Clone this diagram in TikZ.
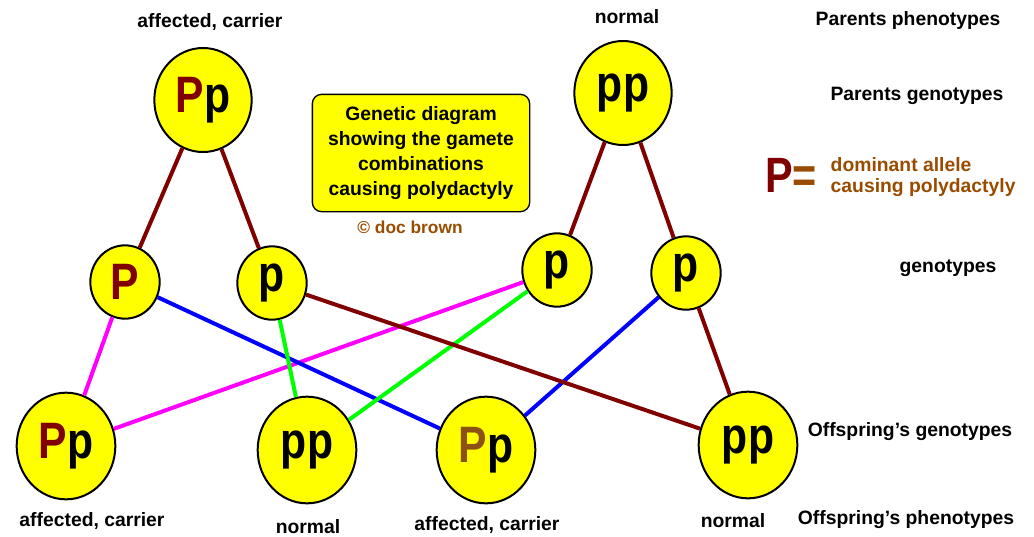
\documentclass[tikz,border=0pt]{standalone}
\usepackage{fontspec}
\setmainfont{Liberation Sans}
\usepackage{graphicx}
\usetikzlibrary{shapes.geometric}

\definecolor{darkred}{RGB}{128,0,0}
\definecolor{brownish}{RGB}{153,76,0}
\definecolor{ptan}{RGB}{140,82,20}
\definecolor{ballyellow}{RGB}{255,255,0}
\definecolor{pinkline}{RGB}{255,0,255}
\definecolor{greenline}{RGB}{0,255,0}
\definecolor{blueline}{RGB}{0,0,255}

% tall letters inside the balls
\newcommand{\allele}[1]{\scalebox{1}[1.2]{\fontsize{32}{34}\selectfont\bfseries #1}}

\begin{document}
\begin{tikzpicture}[x=0.75pt,y=-0.75pt,
    ball/.style={ellipse,draw=black,line width=1.5pt,fill=ballyellow,inner sep=0pt},
    parent/.style={ball,minimum width=73pt,minimum height=78pt},
    gamete/.style={ball,minimum width=52pt,minimum height=55pt},
    child/.style={ball,minimum width=74pt,minimum height=80pt},
    txt/.style={font=\fontsize{14.5}{17}\selectfont\bfseries},
    link/.style={line width=3pt}]
  \useasboundingbox (0,0) rectangle (1034,536);

  % parents
  \node[parent] (parPp) at (203,100) {\allele{\textcolor{darkred}{P}p}};
  \node[parent] (parpp) at (623,93) {\allele{pp}};

  % gametes
  \node[gamete] (gamP) at (125,282) {\allele{\textcolor{darkred}{P}}};
  \node[gamete] (gamp) at (272,283) {\allele{p}};
  \node[gamete] (gamq) at (557,270) {\allele{p}};
  \node[gamete] (gamr) at (686,273) {\allele{p}};

  % offspring
  \node[child] (kidPp) at (66,446) {\allele{\textcolor{darkred}{P}p}};
  \node[child] (kidpp) at (307,450) {\allele{pp}};
  \node[child] (kidPq) at (486,450) {\allele{\textcolor{ptan}{P}p}};
  \node[child] (kidpq) at (748,445) {\allele{pp}};

  \draw[link,darkred] (parPp) -- (gamP);
  \draw[link,darkred] (parPp) -- (gamp);
  \draw[link,darkred] (parpp) -- (gamq);
  \draw[link,darkred] (parpp) -- (gamr);

  \draw[link,pinkline] (gamP) -- (kidPp);
  \draw[link,pinkline] (gamq) -- (kidPp);
  \draw[link,blueline] (gamP) -- (kidPq);
  \draw[link,greenline] (gamp) -- (kidpp);
  \draw[link,greenline] (gamq) -- (kidpp);
  \draw[link,blueline] (gamr) -- (kidPq);
  \draw[link,darkred] (gamp) -- (kidpq);
  \draw[link,darkred] (gamr) -- (kidpq);

  % phenotypes
  \node[txt] (phPp) at (210,22) {affected, carrier};
  \node[txt] (phpp) at (627,17) {normal};
  \node[txt] (kid1) at (92,521) {affected, carrier};
  \node[txt] (kid2) at (308,527) {normal};
  \node[txt] (kid3) at (487,525) {affected, carrier};
  \node[txt] (kid4) at (733,521) {normal};

  % row titles
  \node[txt] (row1) at (908,20) {Parents phenotypes};
  \node[txt] (row2) at (917,96) {Parents genotypes};
  \node[txt] (row3) at (948,268) {genotypes};
  \node[txt] (row4) at (910,432) {Offspring\char"0027 s genotypes};
  \node[txt] (row5) at (906,520) {Offspring\char"0027 s phenotypes};

  % title box
  \node[draw=black,line width=1pt,fill=ballyellow,rounded corners=7pt,
    minimum width=163pt,minimum height=88pt,align=center,
    font=\fontsize{14.5}{18.75}\selectfont\bfseries] (title) at (421,153)
    {Genetic diagram\\showing the gamete\\combinations\\causing polydactyly};
  \node[font=\fontsize{13}{15}\selectfont\bfseries,text=brownish] (credit) at (410,227) {© doc brown};

  % key
  \node[font=\fontsize{31}{34}\selectfont\bfseries] (key) at (791,175)
    {\scalebox{1}[1.2]{\textcolor{darkred}{P}\textcolor{brownish}{=}}};
  \node[txt,text=brownish,align=left,anchor=west,
    font=\fontsize{14.5}{15.75}\selectfont\bfseries] (keytxt) at (826,177)
    {dominant allele\\causing polydactyly};
\end{tikzpicture}
\end{document}
